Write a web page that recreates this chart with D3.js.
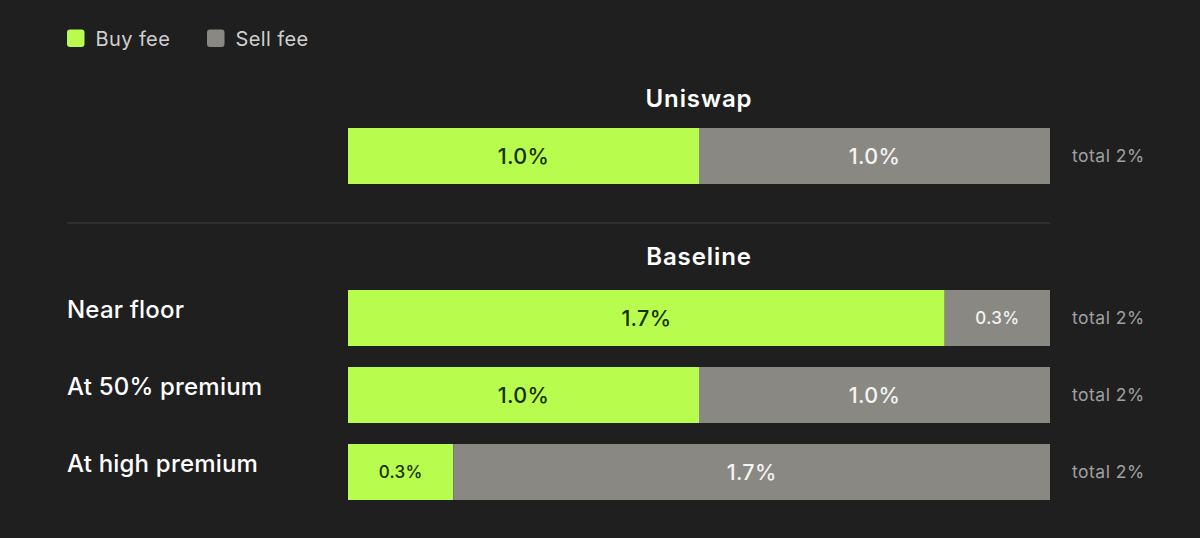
<!DOCTYPE html>
<html><head><meta charset="utf-8">
<script src="https://cdn.jsdelivr.net/npm/d3@7"></script>
<style>
html,body{margin:0;padding:0;background:#1f1f1f;}
svg{display:block;font-family:Inter,"Noto Sans",sans-serif;}
</style></head><body>
<svg id="c" width="1200" height="538"></svg>
<script>
const seriesNames = ["Buy fee", "Sell fee"];
const groups = ["Uniswap", "Baseline"];
const rowGroup = ["Uniswap", "Baseline", "Baseline", "Baseline"];
const rowLabels = ["", "Near floor", "At 50% premium", "At high premium"];
const buyFee = [1.0, 1.7, 1.0, 0.3];
const sellFee = [1.0, 0.3, 1.0, 1.7];
const totalLabels = ["total 2%", "total 2%", "total 2%", "total 2%"];

const colors = {"Buy fee": "#b8fc4d", "Sell fee": "#8a8883"};
const textColors = {"Buy fee": "#163000", "Sell fee": "#f4f4f4"};

const svg = d3.select("#c");
const x = d3.scaleLinear().domain([0, 2]).range([348, 1050]);
const rowY = [128, 290, 367, 444];
const barH = 56;

// legend
const leg = svg.append("g");
const legX = [67, 207];
seriesNames.forEach((s, i) => {
  leg.append("rect").attr("x", legX[i]).attr("y", 29.5).attr("width", 17.5).attr("height", 17.5)
    .attr("rx", 3).attr("fill", colors[s]);
  leg.append("text").attr("x", legX[i] + 28.5).attr("y", 45.5).text(s)
    .attr("fill", "#cfcfcf").attr("font-size", 20).attr("letter-spacing", 0.4);
});

// group titles
const titleY = [107, 265];
groups.forEach((g, i) => {
  svg.append("text").attr("x", (x(0) + x(2)) / 2).attr("y", titleY[i]).attr("text-anchor", "middle")
    .attr("fill", "#ffffff").attr("font-size", 24).attr("font-weight", 600)
    .attr("letter-spacing", 0.9).text(g);
});

// separator
svg.append("line").attr("x1", 67).attr("x2", 1050).attr("y1", 223).attr("y2", 223)
  .attr("stroke", "#363636").attr("stroke-width", 1.5);

// bars
const rows = buyFee.map((b, i) => ({i, label: rowLabels[i], buy: b, sell: sellFee[i], total: totalLabels[i]}));
rows.forEach(r => {
  const y = rowY[r.i];
  const segs = [
    {s: "Buy fee", x0: 0, x1: r.buy, v: r.buy},
    {s: "Sell fee", x0: r.buy, x1: r.buy + r.sell, v: r.sell}
  ];
  segs.forEach(sg => {
    svg.append("rect").attr("x", x(sg.x0)).attr("y", y).attr("width", x(sg.x1) - x(sg.x0))
      .attr("height", barH).attr("fill", colors[sg.s]);
    const small = sg.v < 0.5;
    svg.append("text").attr("x", (x(sg.x0) + x(sg.x1)) / 2).attr("y", y + barH / 2)
      .attr("dy", "0.36em").attr("text-anchor", "middle")
      .attr("font-size", small ? 17 : 21.5).attr("font-weight", 500)
      .attr("letter-spacing", 0.3)
      .attr("fill", textColors[sg.s]).text(sg.v.toFixed(1) + "%");
  });
  if (r.label) {
    svg.append("text").attr("x", 67).attr("y", y + 28).attr("fill", "#ffffff")
      .attr("font-size", 24).attr("font-weight", 500).attr("letter-spacing", 0.2).text(r.label);
  }
  svg.append("text").attr("x", 1072).attr("y", y + barH / 2).attr("dy", "0.36em")
    .attr("fill", "#a0a0a0").attr("font-size", 17.5).attr("letter-spacing", 0.5).text(r.total);
});
</script>
</body></html>
